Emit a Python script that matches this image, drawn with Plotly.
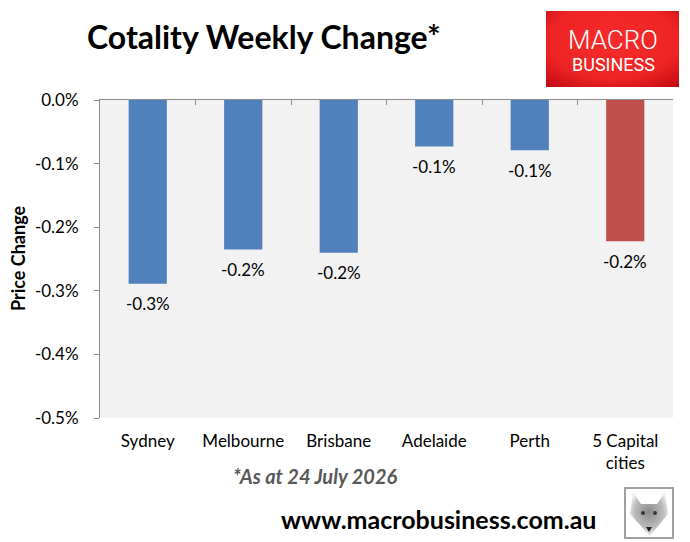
import base64
import plotly.graph_objects as go

# ---- data ----
categories = ["Sydney", "Melbourne", "Brisbane", "Adelaide", "Perth", "5 Capital cities"]
category_labels = ["Sydney", "Melbourne", "Brisbane", "Adelaide", "Perth", "5 Capital<br>cities"]
weekly_change = [-0.289, -0.235, -0.240, -0.073, -0.079, -0.222]  # percent
y_tick_values = [0.0, -0.1, -0.2, -0.3, -0.4, -0.5]
y_tick_labels = ["0.0%", "-0.1%", "-0.2%", "-0.3%", "-0.4%", "-0.5%"]
title_text = "Cotality Weekly Change*"
note_text = "*As at 24 July 2026"
site_text = "www.macrobusiness.com.au"

# ---- styles ----
bar_colors = ["#4F81BD"] * 5 + ["#C0504D"]
FONT = "Lato"
W, H = 690, 542
L, R, T, B = 100, 17, 100, 124
PW, PH = W - L - R, H - T - B


def px(x):
    return (x - L) / PW


def py(y):
    return (H - B - y) / PH


def note(x, y, text, **kw):
    fig.add_annotation(xref="paper", yref="paper", x=px(x), y=py(y), text=text,
                       showarrow=False, xanchor="center", yanchor="middle", **kw)


fig = go.Figure()
fig.add_trace(go.Bar(
    x=categories, y=weekly_change, width=0.4,
    marker=dict(color=bar_colors, line=dict(width=0)),
    hoverinfo="skip", showlegend=False,
))
# invisible trace for the top axis (category boundaries)
fig.add_trace(go.Scatter(x=[-0.5, 5.5], y=[0, 0], xaxis="x2", mode="lines",
                         line=dict(width=0), hoverinfo="skip", showlegend=False))

for c, v in zip(categories, weekly_change):
    fig.add_annotation(x=c, y=v, xref="x", yref="y", text=f"{v:.1f}%",
                       showarrow=False, xanchor="center", yanchor="middle", yshift=-20,
                       font=dict(family=FONT, size=17, color="#000000"))

axis_grey = "#8C8C8C"
fig.update_layout(
    width=W, height=H, margin=dict(l=L, r=R, t=T, b=B),
    paper_bgcolor="white", plot_bgcolor="#F2F2F2",
    bargap=0.6,
    xaxis=dict(tickmode="array", tickvals=categories, ticktext=category_labels,
               showline=False, ticks="", showgrid=False, zeroline=False,
               tickfont=dict(family=FONT, size=17, color="#000000"),
               ticklabelstandoff=11),
    xaxis2=dict(overlaying="x", side="top", anchor="y", range=[-0.5, 5.5],
                tickmode="array", tickvals=[i - 0.5 for i in range(len(categories) + 1)],
                showticklabels=False, ticks="inside", ticklen=5, tickcolor=axis_grey,
                showline=True, linecolor=axis_grey, linewidth=1,
                showgrid=False, zeroline=False),
    yaxis=dict(range=[-0.5, 0], tickmode="array", tickvals=y_tick_values,
               ticktext=y_tick_labels, ticks="outside", ticklen=5,
               tickcolor=axis_grey, showline=True, linecolor=axis_grey,
               showgrid=False, zeroline=False, ticklabelstandoff=12,
               tickfont=dict(family=FONT, size=17, color="#000000")),
)

# axis title
note(18, 259, "<b>Price Change</b>", textangle=-90, font=dict(family=FONT, size=18, color="#000000"))
# title
note(264, 37, f"<b>{title_text}</b>", font=dict(family=FONT, size=32, color="#000000"))
# footnote
note(315, 476, f"<b><i>{note_text}</i></b>", font=dict(family=FONT, size=20, color="#595959"))
# site
note(438, 519, f"<b>{site_text}</b>", font=dict(family=FONT, size=25, color="#000000"))

# logo background (radial red gradient)
logo_svg = """<svg xmlns='http://www.w3.org/2000/svg' width='134' height='76'>
<defs><radialGradient id='g' cx='50%' cy='40%' r='75%'>
<stop offset='0%' stop-color='#F62B2B'/><stop offset='65%' stop-color='#EE2424'/>
<stop offset='100%' stop-color='#C40C14'/></radialGradient></defs>
<rect width='134' height='76' fill='url(#g)'/></svg>"""
fig.add_layout_image(source="data:image/svg+xml;base64," + base64.b64encode(logo_svg.encode()).decode(),
                     xref="paper", yref="paper", x=px(546), y=py(11), sizex=133 / PW, sizey=76 / PH,
                     xanchor="left", yanchor="top", sizing="stretch", layer="above")
note(613, 40, "MACRO", font=dict(family="Roboto", size=26, color="white", weight=300))
note(613, 64, "BUSINESS", font=dict(family="Roboto", size=18, color="white", weight=400))

# wolf box
wolf_svg = """<svg xmlns='http://www.w3.org/2000/svg' width='50' height='52'>
<defs><radialGradient id='w' cx='50%' cy='45%' r='55%'>
<stop offset='0%' stop-color='#8A8A8A'/><stop offset='70%' stop-color='#BDBDBD'/>
<stop offset='100%' stop-color='#EEEEEE'/></radialGradient></defs>
<rect x='1' y='1' width='48' height='50' fill='white' stroke='#A0A0A0' stroke-width='2'/>
<path d='M9 5 L17 17 L33 17 L41 5 L44 27 L26 49 L6 27 Z' fill='url(#w)'/>
<circle cx='19' cy='26' r='2' fill='#333'/><circle cx='31' cy='26' r='2' fill='#333'/>
<path d='M22 40 L28 40 L25 45 Z' fill='#222'/></svg>"""
fig.add_layout_image(source="data:image/svg+xml;base64," + base64.b64encode(wolf_svg.encode()).decode(),
                     xref="paper", yref="paper", x=px(624), y=py(487), sizex=50 / PW, sizey=52 / PH,
                     xanchor="left", yanchor="top", sizing="stretch", layer="above")

fig.write_html("out.html")
